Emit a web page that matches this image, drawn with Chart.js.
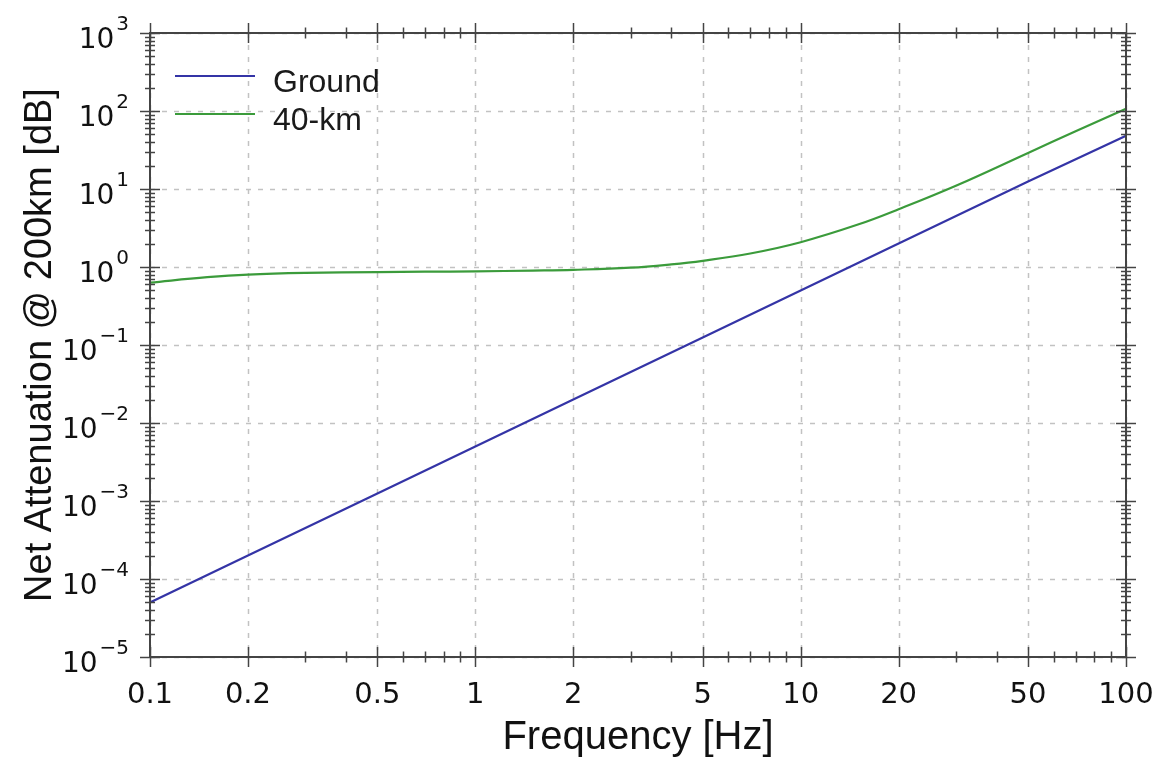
<!DOCTYPE html>
<html>
<head>
<meta charset="utf-8">
<script src="https://cdn.jsdelivr.net/npm/chart.js@4.4.0/dist/chart.umd.min.js"></script>
<style>
  html, body { margin: 0; padding: 0; background: #fff; }
</style>
</head>
<body>
<canvas id="chart" width="1161" height="766"></canvas>
<script>
// Net attenuation at 200 km vs frequency, log-log

// Ground path
const freqGround = [0.1, 0.2, 0.5, 1, 2, 5, 10, 20, 50, 100];
const attenGround = [5.0e-5, 2.0e-4, 1.25e-3, 5.0e-3, 2.0e-2, 0.125, 0.5, 2.0, 12.5, 48];

// 40-km path
const freqHigh = [0.1, 0.15, 0.2, 0.3, 0.5, 0.7, 1, 1.5, 2, 3, 4, 5, 7, 10, 15, 20, 30, 50, 70, 100];
const attenHigh = [0.63, 0.74, 0.80, 0.84, 0.86, 0.87, 0.88, 0.90, 0.92, 0.98, 1.08, 1.2, 1.49, 2.08, 3.5, 5.5, 11, 29, 55, 107];

const seriesNames = ['Ground', '40-km'];
const seriesColors = ['#3434a6', '#3b9b3b'];

// Labelled ticks
const xTickValues = [0.1, 0.2, 0.5, 1, 2, 5, 10, 20, 50, 100];
const xTickLabels = ['0.1', '0.2', '0.5', '1', '2', '5', '10', '20', '50', '100'];
const yDecades = [-5, -4, -3, -2, -1, 0, 1, 2, 3];

const xRange = [0.1, 100];
const yRange = [1e-5, 1e3];

const MINUS = '\u2212';
const tickFont = 'DejaVu Sans';
const textFont = 'Liberation Sans';

// every 1..9 x 10^n between min and max
const logTicks = (min, max) => {
    const out = [];
    for (let e = Math.round(Math.log10(min)); e < Math.round(Math.log10(max)); e++) {
        for (let m = 1; m <= 9; m++) out.push({ value: m * Math.pow(10, e), major: m === 1 });
    }
    out.push({ value: max, major: true });
    return out;
};

const toPoints = (xs, ys) => xs.map((x, i) => ({ x: x, y: ys[i] }));

const framePlugin = {
    id: 'frame',
    beforeDatasetsDraw(chart) {
        const { ctx, chartArea: a, scales: { x, y } } = chart;
        ctx.save();
        ctx.strokeStyle = '#c2c2c2';
        ctx.lineWidth = 1.5;
        ctx.setLineDash([5, 7]);
        xTickValues.forEach(v => {
            const px = Math.round(x.getPixelForValue(v)) + 0.5;
            ctx.beginPath(); ctx.moveTo(px, a.top); ctx.lineTo(px, a.bottom); ctx.stroke();
        });
        yDecades.forEach(e => {
            const py = Math.round(y.getPixelForValue(Math.pow(10, e))) + 0.5;
            ctx.beginPath(); ctx.moveTo(a.left, py); ctx.lineTo(a.right, py); ctx.stroke();
        });
        ctx.restore();
    },
    afterDraw(chart) {
        const { ctx, chartArea: a, scales: { x, y } } = chart;
        ctx.save();

        // box
        ctx.strokeStyle = '#444';
        ctx.lineWidth = 2;
        ctx.strokeRect(a.left, a.top, a.right - a.left, a.bottom - a.top);

        // tick marks crossing all four sides
        ctx.lineWidth = 1.5;
        const xMajor = new Set(xTickValues.map(v => v.toPrecision(3)));
        logTicks(xRange[0], xRange[1]).forEach(t => {
            const px = Math.round(x.getPixelForValue(t.value)) + 0.5;
            const len = xMajor.has(t.value.toPrecision(3)) ? 10 : 5.5;
            [a.top, a.bottom].forEach(edge => {
                ctx.beginPath(); ctx.moveTo(px, edge - len); ctx.lineTo(px, edge + len); ctx.stroke();
            });
        });
        logTicks(yRange[0], yRange[1]).forEach(t => {
            const py = Math.round(y.getPixelForValue(t.value)) + 0.5;
            const len = t.major ? 10 : 5;
            [a.left, a.right].forEach(edge => {
                ctx.beginPath(); ctx.moveTo(edge - len, py); ctx.lineTo(edge + len, py); ctx.stroke();
            });
        });

        // x tick labels
        ctx.fillStyle = '#111';
        ctx.font = '29px "' + tickFont + '"';
        ctx.textAlign = 'center';
        ctx.textBaseline = 'alphabetic';
        xTickValues.forEach((v, i) => {
            ctx.fillText(xTickLabels[i], x.getPixelForValue(v), a.bottom + 46);
        });

        // y tick labels, 10 with raised exponent
        ctx.textAlign = 'left';
        yDecades.forEach(e => {
            const py = y.getPixelForValue(Math.pow(10, e));
            const expText = e < 0 ? MINUS + Math.abs(e) : String(e);
            ctx.font = '20px "' + tickFont + '"';
            const wExp = ctx.measureText(expText).width;
            ctx.font = '28px "' + tickFont + '"';
            const wBase = ctx.measureText('10').width;
            const x0 = 129 - wExp - 2 - wBase;
            ctx.fillText('10', x0, py + 15);
            ctx.font = '20px "' + tickFont + '"';
            ctx.fillText(expText, x0 + wBase + 2, py - 3.5);
        });

        // legend
        ctx.font = '32px "' + textFont + '"';
        ctx.fillStyle = '#1a1a1a';
        chart.data.datasets.forEach((ds, i) => {
            const ly = 76 + i * 38;
            ctx.strokeStyle = ds.borderColor;
            ctx.lineWidth = 2;
            ctx.beginPath(); ctx.moveTo(175, ly); ctx.lineTo(255, ly); ctx.stroke();
            ctx.fillText(ds.label, 273, ly + 15.5);
        });

        ctx.restore();
    }
};

new Chart(document.getElementById('chart'), {
    type: 'line',
    data: {
        datasets: [
            {
                label: seriesNames[0],
                data: toPoints(freqGround, attenGround),
                borderColor: seriesColors[0],
                borderWidth: 2.2,
                pointRadius: 0,
                tension: 0,
                fill: false
            },
            {
                label: seriesNames[1],
                data: toPoints(freqHigh, attenHigh),
                borderColor: seriesColors[1],
                borderWidth: 2.2,
                pointRadius: 0,
                tension: 0.4,
                fill: false
            }
        ]
    },
    options: {
        responsive: false,
        animation: false,
        devicePixelRatio: 1,
        layout: { padding: { top: 33, right: 35, bottom: 0, left: 0 } },
        plugins: { legend: { display: false }, tooltip: { enabled: false } },
        scales: {
            x: {
                type: 'logarithmic',
                min: xRange[0],
                max: xRange[1],
                afterFit: s => { s.height = 109; },
                grid: { display: false },
                border: { display: false },
                ticks: { display: false },
                title: {
                    display: true,
                    text: 'Frequency [Hz]',
                    color: '#111',
                    font: { family: textFont, size: 40 },
                    padding: { top: 0, bottom: 4 }
                }
            },
            y: {
                type: 'logarithmic',
                min: yRange[0],
                max: yRange[1],
                afterFit: s => { s.width = 150; },
                grid: { display: false },
                border: { display: false },
                ticks: { display: false },
                title: {
                    display: true,
                    text: 'Net Attenuation @ 200km [dB]',
                    color: '#111',
                    font: { family: textFont, size: 38 },
                    padding: { top: 18, bottom: 0 }
                }
            }
        }
    },
    plugins: [framePlugin]
});
</script>
</body>
</html>
